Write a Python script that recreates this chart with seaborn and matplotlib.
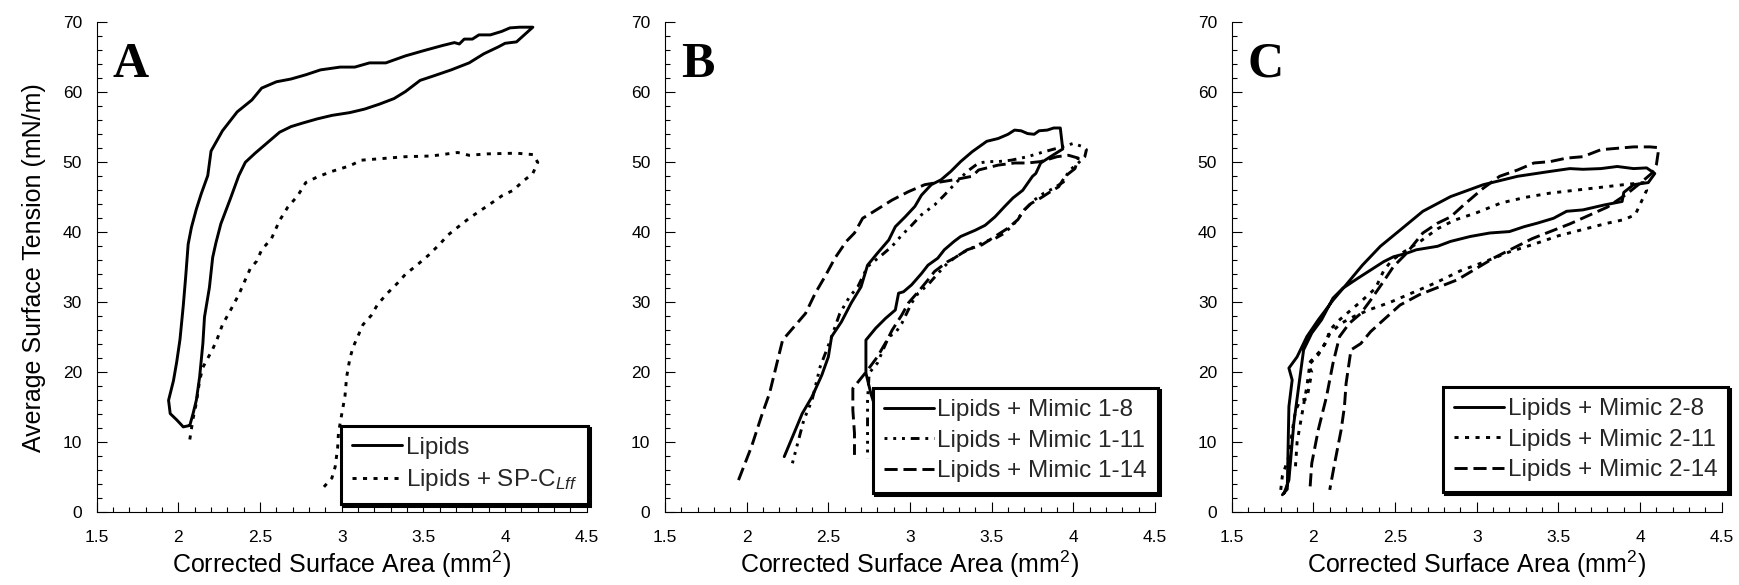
import matplotlib
matplotlib.use('Agg')
import matplotlib.pyplot as plt
import seaborn as sns
from matplotlib.ticker import MultipleLocator, FuncFormatter

# ---------------- data ----------------
# Panel A
a_lipids_x = [2.07, 2.03, 1.99, 1.95, 1.94, 1.97, 1.99, 2.01, 2.03, 2.045,
              2.06, 2.08, 2.11, 2.14, 2.18, 2.20, 2.27, 2.36, 2.45, 2.51,
              2.60, 2.69, 2.78, 2.87, 2.99, 3.08, 3.17, 3.27, 3.39, 3.51,
              3.62, 3.69, 3.72, 3.75, 3.80, 3.84, 3.91, 3.98, 4.03, 4.09,
              4.17, 4.07, 4.00, 3.96, 3.87, 3.78, 3.67, 3.57, 3.48, 3.39,
              3.32, 3.23, 3.14, 3.05, 2.94, 2.85, 2.76, 2.69, 2.62, 2.54,
              2.47, 2.41, 2.37, 2.32, 2.26, 2.23, 2.21, 2.19, 2.16, 2.15,
              2.13, 2.11, 2.09, 2.07]
a_lipids_y = [12.4, 12.2, 13.2, 14.1, 16.0, 18.8, 21.5, 24.7, 29.5, 33.7,
              38.3, 40.7, 43.3, 45.5, 48.1, 51.6, 54.5, 57.2, 58.9, 60.6,
              61.5, 61.9, 62.5, 63.2, 63.6, 63.6, 64.2, 64.2, 65.2, 66.0,
              66.7, 67.1, 66.9, 67.6, 67.6, 68.2, 68.2, 68.7, 69.2, 69.3,
              69.3, 67.2, 67.0, 66.5, 65.5, 64.2, 63.2, 62.4, 61.7, 60.1,
              59.1, 58.3, 57.6, 57.1, 56.7, 56.2, 55.6, 55.1, 54.3, 52.7,
              51.3, 50.0, 48.1, 44.9, 41.2, 38.5, 36.4, 32.1, 27.9, 24.1,
              19.3, 16.0, 14.1, 12.4]
a_spc_x = [2.07, 2.09, 2.11, 2.13, 2.15, 2.18, 2.21, 2.24, 2.27, 2.32,
           2.37, 2.40, 2.44, 2.48, 2.51, 2.57, 2.62, 2.67, 2.73, 2.78,
           2.85, 2.94, 3.05, 3.12, 3.23, 3.39, 3.55, 3.71, 3.78, 3.89,
           4.07, 4.17, 4.20, 4.17, 4.11, 4.05, 3.98, 3.90, 3.83, 3.78,
           3.72, 3.65, 3.60, 3.53, 3.46, 3.39, 3.34, 3.28, 3.22, 3.18,
           3.13, 3.10, 3.07, 3.05, 3.03, 3.02, 3.00, 2.98, 2.975, 2.96,
           2.94, 2.89]
a_spc_y = [10.4, 13.4, 15.6, 18.8, 20.7, 22.0, 23.3, 24.9, 26.8, 28.9,
           31.1, 32.7, 34.8, 35.9, 37.5, 39.1, 41.7, 43.6, 45.2, 47.1,
           47.9, 48.7, 49.5, 50.3, 50.5, 50.8, 50.9, 51.4, 51.0, 51.2,
           51.3, 51.1, 50.0, 48.4, 47.3, 46.0, 45.2, 43.9, 42.8, 42.0,
           40.9, 39.6, 38.3, 36.7, 35.3, 34.0, 32.7, 31.3, 29.7, 28.1,
           26.8, 25.2, 23.6, 22.0, 19.3, 16.6, 14.0, 11.3, 9.2, 6.5,
           4.9, 3.6]

# Panel B
b_m8_x = [2.23, 2.34, 2.40, 2.46, 2.50, 2.52, 2.58, 2.64, 2.70, 2.74,
          2.80, 2.87, 2.91, 2.97, 3.03, 3.07, 3.13, 3.19, 3.25, 3.31,
          3.38, 3.47, 3.54, 3.60, 3.64, 3.68, 3.72, 3.76, 3.79, 3.84,
          3.88, 3.92, 3.935, 3.86, 3.80, 3.77, 3.75, 3.69, 3.63, 3.58,
          3.52, 3.46, 3.40, 3.31, 3.27, 3.21, 3.17, 3.11, 3.07, 3.01,
          2.96, 2.93, 2.91, 2.85, 2.79, 2.73, 2.73, 2.76, 2.80]
b_m8_y = [7.95, 14.1, 16.5, 19.6, 22.2, 25.1, 27.2, 29.9, 32.2, 35.3,
          37.0, 38.9, 40.8, 42.2, 43.7, 45.3, 46.8, 47.5, 48.7, 50.1,
          51.5, 53.0, 53.4, 54.0, 54.6, 54.5, 54.1, 54.0, 54.5, 54.6,
          54.9, 54.9, 51.9, 50.8, 49.9, 48.4, 48.0, 46.0, 44.9, 43.7,
          42.2, 41.0, 40.3, 39.4, 38.7, 37.5, 36.3, 35.3, 34.1, 32.5,
          31.5, 31.3, 28.9, 27.7, 26.3, 24.6, 19.9, 17.0, 14.0]
b_m11_x = [2.28, 2.35, 2.40, 2.45, 2.49, 2.52, 2.57, 2.63, 2.68, 2.74,
           2.83, 2.89, 2.95, 3.01, 3.07, 3.15, 3.21, 3.27, 3.35, 3.42,
           3.48, 3.54, 3.62, 3.72, 3.82, 3.90, 4.00, 4.06, 4.08, 4.07,
           4.03, 3.97, 3.94, 3.88, 3.82, 3.76, 3.70, 3.64, 3.58, 3.52,
           3.46, 3.40, 3.33, 3.27, 3.23, 3.17, 3.11, 3.05, 3.01, 2.95,
           2.91, 2.87, 2.80, 2.75, 2.74, 2.74]
b_m11_y = [7.0, 13.2, 16.0, 20.8, 23.2, 25.1, 28.4, 30.8, 32.2, 35.1,
           36.8, 38.0, 39.6, 41.0, 42.5, 43.9, 45.3, 46.8, 48.7, 49.9,
           50.1, 50.1, 50.3, 50.8, 51.5, 52.0, 52.7, 52.2, 51.8, 50.8,
           49.9, 48.7, 47.2, 46.3, 45.6, 44.6, 43.2, 41.3, 39.9, 39.1,
           38.7, 38.0, 37.2, 36.3, 35.6, 34.1, 32.5, 31.3, 29.9, 27.0,
           25.6, 25.1, 21.3, 19.9, 16.0, 7.7]
b_m14_x = [1.95, 2.03, 2.09, 2.14, 2.18, 2.22, 2.29, 2.36, 2.42, 2.48,
           2.54, 2.61, 2.66, 2.71, 2.78, 2.89, 2.99, 3.09, 3.19, 3.27,
           3.38, 3.42, 3.54, 3.64, 3.72, 3.80, 3.90, 3.97, 4.03, 4.01,
           3.95, 3.91, 3.86, 3.80, 3.74, 3.70, 3.66, 3.60, 3.52, 3.44,
           3.35, 3.27, 3.23, 3.15, 3.11, 3.05, 2.99, 2.95, 2.89, 2.86,
           2.80, 2.74, 2.65, 2.65, 2.66, 2.66]
b_m14_y = [4.6, 9.4, 13.7, 17.0, 20.8, 24.6, 26.5, 28.4, 31.3, 33.7,
           36.3, 38.7, 39.9, 42.0, 43.0, 44.6, 45.8, 46.8, 47.2, 47.5,
           48.0, 48.9, 49.6, 49.9, 49.9, 50.1, 50.8, 51.0, 50.6, 49.1,
           48.0, 46.5, 45.8, 44.9, 44.1, 43.2, 41.8, 40.6, 39.4, 38.2,
           37.5, 36.3, 35.8, 34.4, 33.2, 31.5, 29.9, 28.2, 26.0, 24.6,
           22.2, 20.3, 17.7, 14.6, 11.3, 8.2]

# Panel C
c_m8_x = [1.81, 1.84, 1.85, 1.87, 1.85, 1.90, 1.96, 2.03, 2.12, 2.20,
          2.30, 2.41, 2.53, 2.67, 2.84, 3.04, 3.25, 3.45, 3.57, 3.65,
          3.76, 3.86, 3.96, 4.04, 4.09, 4.05, 3.96, 3.90, 3.89, 3.78,
          3.65, 3.55, 3.47, 3.37, 3.29, 3.20, 3.08, 2.96, 2.84, 2.76,
          2.63, 2.57, 2.49, 2.43, 2.35, 2.27, 2.18, 2.12, 2.05, 1.99,
          1.94, 1.91, 1.88, 1.85, 1.82]
c_m8_y = [2.5, 3.3, 15.1, 18.9, 20.6, 22.2, 25.1, 27.5, 30.3, 32.5,
          35.3, 38.0, 40.3, 43.0, 45.1, 46.8, 48.0, 48.7, 49.1, 49.0,
          49.1, 49.4, 49.1, 49.2, 48.4, 47.1, 46.8, 45.7, 44.4, 43.9,
          43.2, 43.0, 42.0, 41.3, 40.8, 40.1, 39.9, 39.4, 38.7, 38.0,
          37.5, 37.0, 36.5, 35.8, 34.6, 33.4, 32.0, 30.6, 27.5, 25.6,
          23.2, 18.0, 12.7, 4.6, 2.7]
c_m11_x = [1.80, 1.81, 1.85, 1.87, 1.89, 1.92, 1.96, 1.99, 1.97, 2.03,
           2.08, 2.10, 2.15, 2.22, 2.30, 2.38, 2.43, 2.48, 2.56, 2.66,
           2.76, 2.86, 3.00, 3.15, 3.30, 3.45, 3.60, 3.75, 3.90, 4.02,
           4.04, 4.02, 3.97, 3.90, 3.80, 3.65, 3.50, 3.35, 3.20, 3.05,
           2.90, 2.75, 2.60, 2.47, 2.35, 2.25, 2.17, 2.10, 2.07, 2.04,
           1.98, 1.96, 1.93, 1.90, 1.89]
c_m11_y = [3.2, 5.2, 8.0, 11.5, 14.5, 16.0, 16.2, 20.0, 21.0, 22.5,
           24.5, 26.0, 27.3, 28.7, 30.3, 32.0, 34.5, 36.0, 37.3, 38.8,
           40.5, 41.7, 42.8, 44.2, 45.0, 45.6, 46.0, 46.4, 46.8, 47.1,
           46.0, 45.0, 42.5, 41.8, 41.3, 40.4, 39.5, 38.3, 37.2, 35.8,
           34.5, 32.8, 31.3, 30.0, 29.0, 28.0, 27.0, 25.5, 24.0, 23.0,
           21.5, 18.0, 14.0, 10.0, 6.5]
c_m14_x = [1.98, 1.99, 2.03, 2.08, 2.12, 2.16, 2.22, 2.29, 2.35, 2.43,
           2.49, 2.57, 2.67, 2.76, 2.84, 2.92, 3.04, 3.14, 3.25, 3.35,
           3.45, 3.55, 3.65, 3.76, 3.86, 3.96, 4.06, 4.11, 4.11, 4.10,
           4.07, 4.00, 3.92, 3.80, 3.57, 3.34, 3.11, 2.88, 2.65, 2.53,
           2.43, 2.35, 2.29, 2.23, 2.20, 2.19, 2.17, 2.13, 2.10]
c_m14_y = [3.7, 7.0, 11.8, 16.5, 21.3, 25.1, 27.0, 28.4, 30.3, 33.0,
           35.1, 37.0, 39.9, 41.3, 42.2, 43.9, 46.3, 48.0, 48.9, 49.9,
           50.1, 50.6, 50.8, 51.8, 52.0, 52.2, 52.2, 52.1, 51.3, 49.7,
           48.4, 47.0, 45.5, 43.6, 41.2, 39.1, 36.4, 33.2, 31.1, 29.6,
           27.5, 25.8, 24.1, 23.2, 18.4, 15.1, 11.8, 7.0, 3.2]

panel_letters = ['A', 'B', 'C']
labels_a = ['Lipids', 'Lipids + SP-C$_{\\mathit{Lff}}$']
labels_b = ['Lipids + Mimic 1-8', 'Lipids + Mimic 1-11', 'Lipids + Mimic 1-14']
labels_c = ['Lipids + Mimic 2-8', 'Lipids + Mimic 2-11', 'Lipids + Mimic 2-14']
x_label = 'Corrected Surface Area (mm$^2$)'
y_label = 'Average Surface Tension (mN/m)'

# ---------------- styling ----------------
sns.set_style('white')
plt.rcParams['font.family'] = ['Liberation Sans', 'DejaVu Sans']
plt.rcParams['mathtext.fontset'] = 'custom'
plt.rcParams['mathtext.rm'] = 'Liberation Sans'
plt.rcParams['mathtext.it'] = 'Liberation Sans:italic'
plt.rcParams['mathtext.bf'] = 'Liberation Sans:bold'

LW = 2.1
SOLID = '-'
DOTS = (0, (1.4, 2.2))
DASHDOTDOT = (0, (1, 2.0, 1, 2.0, 1, 2.0, 3, 2.0))
DASHED = (0, (4.5, 2))

fig = plt.figure(figsize=(17.39, 5.85), dpi=100)
lefts = [0.0556, 0.3824, 0.7083]
bottom, width, height = 0.1243, 0.2818, 0.8376

panels = [
    ([(a_lipids_x, a_lipids_y, SOLID), (a_spc_x, a_spc_y, DOTS)], labels_a, (1.003, 0.017)),
    ([(b_m8_x, b_m8_y, SOLID), (b_m11_x, b_m11_y, DASHDOTDOT), (b_m14_x, b_m14_y, DASHED)], labels_b, (1.006, 0.039)),
    ([(c_m8_x, c_m8_y, SOLID), (c_m11_x, c_m11_y, DOTS), (c_m14_x, c_m14_y, DASHED)], labels_c, (1.013, 0.041)),
]

fmt = FuncFormatter(lambda v, p: f'{v:g}')

for i, (series, labels, anchor) in enumerate(panels):
    ax = fig.add_axes([lefts[i], bottom, width, height])
    handles = []
    for (xs, ys, ls), lab in zip(series, labels):
        sns.lineplot(x=xs, y=ys, sort=False, estimator=None, color='black',
                     linewidth=LW, linestyle=ls, ax=ax)
        handles.append(ax.get_lines()[-1])
    ax.set_xlim(1.5, 4.5)
    ax.set_ylim(0, 70)
    ax.xaxis.set_major_locator(MultipleLocator(0.5))
    ax.xaxis.set_minor_locator(MultipleLocator(0.1))
    ax.yaxis.set_major_locator(MultipleLocator(10))
    ax.yaxis.set_minor_locator(MultipleLocator(2))
    ax.xaxis.set_major_formatter(fmt)
    ax.yaxis.set_major_formatter(fmt)
    ax.tick_params(which='both', bottom=True, left=True, top=False, right=False)
    ax.tick_params(which='major', direction='in', length=7, width=0.8,
                   color='black', labelsize=12.5, labelcolor='black')
    ax.tick_params(which='minor', direction='in', length=3.5, width=0.8,
                   color='black')
    ax.tick_params(axis='x', which='major', pad=12.5)
    ax.tick_params(axis='y', which='major', pad=10.5)
    for s in ['top', 'right']:
        ax.spines[s].set_visible(False)
    for s in ['left', 'bottom']:
        ax.spines[s].set_color('black')
        ax.spines[s].set_linewidth(0.8)
    ax.set_xlabel(x_label, fontsize=18, labelpad=3, color='black')
    if i == 0:
        ax.set_ylabel(y_label, fontsize=18, labelpad=12, color='black')
    else:
        ax.set_ylabel('')
    ax.text(0.033, 0.889, panel_letters[i], transform=ax.transAxes,
            fontsize=36, fontweight='bold', family='Liberation Serif',
            va='baseline', ha='left', color='black')
    leg = ax.legend(handles, labels, loc='lower right', bbox_to_anchor=anchor,
                    borderaxespad=0, fontsize=17.5, frameon=True, fancybox=False,
                    edgecolor='black', facecolor='white', framealpha=1,
                    handlelength=2.05, handletextpad=0.15, labelspacing=0.35,
                    borderpad=0.45,
                    shadow={'ox': 1.5, 'oy': -1.5, 'color': 'black', 'alpha': 1})
    leg.get_frame().set_linewidth(2.2)

fig.savefig('out.png', dpi=100)
